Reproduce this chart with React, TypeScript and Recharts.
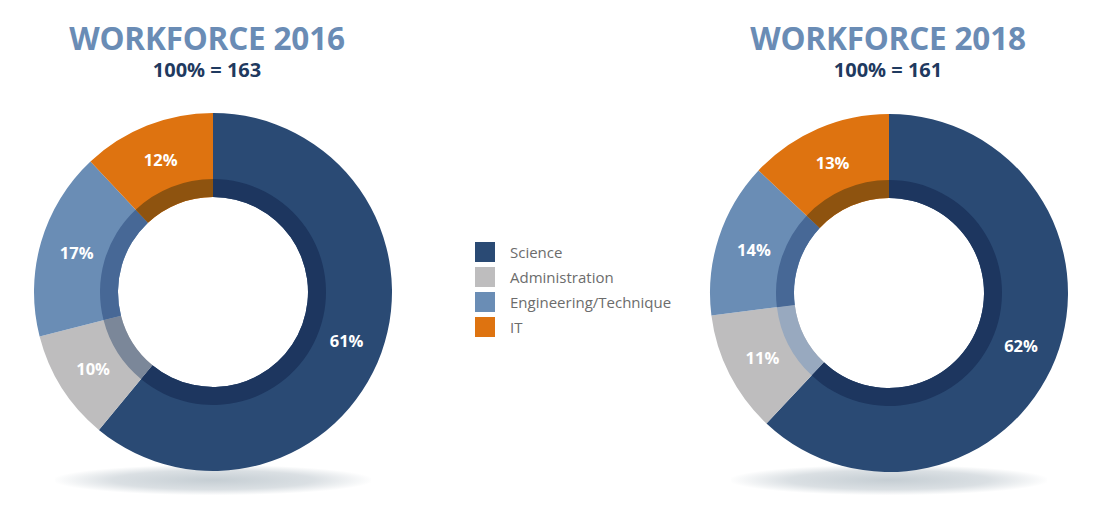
import React from "react";
import { PieChart, Pie, Cell } from "recharts";

// Workforce split by department, in percent of headcount
const categories = ["Science", "Administration", "Engineering/Technique", "IT"];
const share2016 = [61, 10, 17, 12];
const share2018 = [62, 11, 14, 13];
const total2016 = 163;
const total2018 = 161;
const titles = ["WORKFORCE 2016", "WORKFORCE 2018"];

const mainColors = ["#2a4a74", "#bebdbe", "#6a8db5", "#de7310"];
// darker inner ring tones per department
const ringColors2016 = ["#1d365f", "#7b8799", "#476896", "#8e530f"];
const ringColors2018 = ["#1d365f", "#98a9bf", "#476896", "#8e530f"];

const FONT = "'Open Sans', 'Noto Sans', sans-serif";
const RAD = Math.PI / 180;

const toRows = (values: number[]) =>
  categories.map((name, i) => ({ name, value: values[i] }));

const data2016 = toRows(share2016);
const data2018 = toRows(share2018);

const renderLabel = (props: any) => {
  const { cx, cy, midAngle, value } = props;
  const r = 142;
  const x = cx + r * Math.cos(-midAngle * RAD);
  const y = cy + r * Math.sin(-midAngle * RAD);
  return (
    <text
      x={x}
      y={y}
      fill="#ffffff"
      textAnchor="middle"
      dominantBaseline="central"
      fontFamily={FONT}
      fontWeight={700}
      fontSize={16.5}
    >
      {value}%
    </text>
  );
};

const LegendBox = () => (
  <div
    style={{
      position: "absolute",
      left: 475,
      top: 239,
      fontFamily: FONT,
    }}
  >
    {categories.map((c, i) => (
      <div
        key={c}
        style={{ display: "flex", alignItems: "center", height: 25 }}
      >
        <div
          style={{
            width: 20,
            height: 20,
            background: mainColors[i],
            marginRight: 15,
          }}
        />
        <span style={{ fontSize: 15, color: "#6c6c6c" }}>{c}</span>
      </div>
    ))}
  </div>
);

const centers = [
  { cx: 213, cy: 292 },
  { cx: 889, cy: 293 },
];

const Header = ({ x, title, total }: { x: number; title: string; total: number }) => (
  <>
    <div
      style={{
        position: "absolute",
        left: x - 200,
        width: 400,
        top: 23,
        height: 32,
        textAlign: "center",
        fontFamily: FONT,
        fontWeight: 700,
        fontSize: 31.5,
        lineHeight: "30px",
        letterSpacing: -0.2,
        color: "#6a8cb5",
      }}
    >
      {title}
    </div>
    <div
      style={{
        position: "absolute",
        left: x - 200,
        width: 400,
        top: 61,
        textAlign: "center",
        fontFamily: FONT,
        fontWeight: 700,
        fontSize: 20,
        lineHeight: "18px",
        color: "#1f3a60",
      }}
    >
      100% = {total}
    </div>
  </>
);

const Shadow = ({ x }: { x: number }) => (
  <div
    style={{
      position: "absolute",
      left: x - 158,
      top: 465,
      width: 316,
      height: 30,
      background:
        "radial-gradient(ellipse at center, rgba(194,203,209,0.95) 0%, rgba(206,213,218,0.75) 45%, rgba(255,255,255,0) 72%)",
    }}
  />
);

export default function App() {
  return (
    <div
      style={{
        position: "absolute",
        left: 0,
        top: 0,
        width: 1100,
        height: 513,
        background: "#ffffff",
        overflow: "hidden",
      }}
    >
      <Shadow x={213} />
      <Shadow x={889} />
      <Header x={207} title={titles[0]} total={total2016} />
      <Header x={888} title={titles[1]} total={total2018} />
      <div style={{ position: "absolute", left: 0, top: 0 }}>
        <PieChart
          width={1100}
          height={513}
          margin={{ top: 0, right: 0, bottom: 0, left: 0 }}
        >
          <Pie
            data={data2016}
            dataKey="value"
            nameKey="name"
            cx={centers[0].cx}
            cy={centers[0].cy}
            innerRadius={95}
            outerRadius={179}
            startAngle={90}
            endAngle={-270}
            stroke="none"
            label={renderLabel}
            labelLine={false}
            isAnimationActive={false}
          >
            {data2016.map((d, i) => (
              <Cell key={d.name} fill={mainColors[i]} />
            ))}
          </Pie>
          <Pie
            data={data2016}
            dataKey="value"
            nameKey="name"
            cx={centers[0].cx}
            cy={centers[0].cy}
            innerRadius={95}
            outerRadius={113}
            startAngle={90}
            endAngle={-270}
            stroke="none"
            isAnimationActive={false}
          >
            {data2016.map((d, i) => (
              <Cell key={d.name} fill={ringColors2016[i]} />
            ))}
          </Pie>
          <Pie
            data={data2018}
            dataKey="value"
            nameKey="name"
            cx={centers[1].cx}
            cy={centers[1].cy}
            innerRadius={95}
            outerRadius={179}
            startAngle={90}
            endAngle={-270}
            stroke="none"
            label={renderLabel}
            labelLine={false}
            isAnimationActive={false}
          >
            {data2018.map((d, i) => (
              <Cell key={d.name} fill={mainColors[i]} />
            ))}
          </Pie>
          <Pie
            data={data2018}
            dataKey="value"
            nameKey="name"
            cx={centers[1].cx}
            cy={centers[1].cy}
            innerRadius={95}
            outerRadius={113}
            startAngle={90}
            endAngle={-270}
            stroke="none"
            isAnimationActive={false}
          >
            {data2018.map((d, i) => (
              <Cell key={d.name} fill={ringColors2018[i]} />
            ))}
          </Pie>
        </PieChart>
      </div>
      <LegendBox />
    </div>
  );
}
